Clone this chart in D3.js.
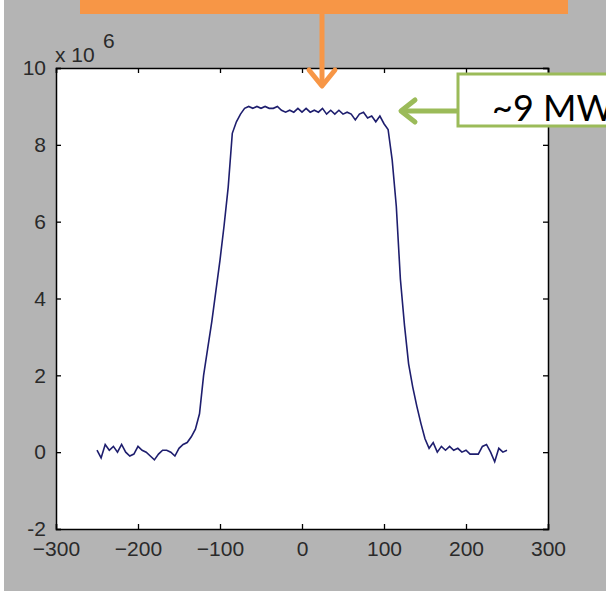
<!DOCTYPE html>
<html>
<head>
<meta charset="utf-8">
<script src="https://cdn.jsdelivr.net/npm/d3@7"></script>
<style>
  body { margin: 0; background: #fff; }
  svg { display: block; }
</style>
</head>
<body>
<svg id="chart"></svg>
<script>
var width = 606
var height = 591

// power profile, y in W
var xValues = d3.range(-250, 251, 5)
var yValues = [
    0.05, -0.15, 0.2, 0.05, 0.15, 0.0, 0.2, 0.0, -0.1, -0.05,
    0.15, 0.05, 0.0, -0.1, -0.2, -0.05, 0.05, 0.05, 0.0, -0.1,
    0.1, 0.2, 0.25, 0.4, 0.6, 1.0, 2.0, 2.7, 3.4, 4.2,
    5.0, 5.9, 6.9, 8.3, 8.6, 8.8, 8.95, 9.0, 8.95, 9.0,
    8.95, 9.0, 8.95, 8.95, 9.0, 8.9, 8.85, 8.9, 8.85, 8.95,
    8.85, 8.95, 8.85, 8.9, 8.85, 8.95, 8.8, 8.9, 8.8, 8.9,
    8.8, 8.85, 8.8, 8.65, 8.8, 8.85, 8.7, 8.75, 8.6, 8.75,
    8.55, 8.4, 7.6, 6.4, 4.5, 3.3, 2.3, 1.7, 1.2, 0.75,
    0.35, 0.1, 0.25, 0.0, 0.15, 0.05, 0.15, 0.05, 0.1, 0.0,
    0.05, -0.05, -0.05, -0.05, 0.15, 0.2, 0.0, -0.25, 0.1, 0.0,
    0.05
].map(function (v) { return v * 1e6 })

var xTicks = [-300, -200, -100, 0, 100, 200, 300]
var yTicks = [-2, 0, 2, 4, 6, 8, 10].map(function (v) { return v * 1e6 })
var calloutText = '~9 MW'

var plot = {left: 56, right: 548, top: 68, bottom: 529}

var svg = d3.select('#chart')
    .attr('width', width)
    .attr('height', height)

// slide background
svg.append('rect')
    .attr('x', 4).attr('y', 0)
    .attr('width', width - 4).attr('height', height)
    .style('fill', '#b4b4b4')

var xScale = d3.scaleLinear().domain([-300, 300]).range([plot.left, plot.right])
var yScale = d3.scaleLinear().domain([-2e6, 10e6]).range([plot.bottom, plot.top])

svg.append('rect')
    .attr('x', plot.left).attr('y', plot.top)
    .attr('width', plot.right - plot.left).attr('height', plot.bottom - plot.top)
    .style('fill', '#fff')

var line = d3.line()
    .x(function (d, i) { return xScale(xValues[i]) })
    .y(function (d) { return yScale(d) })

svg.append('path')
    .datum(yValues)
    .attr('d', line)
    .style('fill', 'none')
    .style('stroke', '#1e1e6e')
    .style('stroke-width', 1.6)

var font = '"Liberation Sans", Arial, sans-serif'
var tickLen = 5

// inward ticks on all four sides, labels left and bottom
var bottomAxis = d3.axisBottom(xScale).tickValues(xTicks).tickSize(-tickLen).tickPadding(12).tickFormat(d3.format('d'))
var topAxis = d3.axisTop(xScale).tickValues(xTicks).tickSize(-tickLen).tickFormat('')
var leftAxis = d3.axisLeft(yScale).tickValues(yTicks).tickSize(-tickLen).tickPadding(10).tickFormat(function (d) { return d / 1e6 })
var rightAxis = d3.axisRight(yScale).tickValues(yTicks).tickSize(-tickLen).tickFormat('')

function styleAxis(g) {
    g.select('.domain').style('stroke', '#000').style('stroke-width', 1.5)
    g.selectAll('.tick line').style('stroke', '#000').style('stroke-width', 1.3)
    g.selectAll('.tick text').style('font-family', font).style('font-size', '21px').style('fill', '#2a2a2a')
}

svg.append('g').attr('transform', 'translate(0,' + plot.bottom + ')').call(bottomAxis).call(styleAxis)
svg.append('g').attr('transform', 'translate(0,' + plot.top + ')').call(topAxis).call(styleAxis)
svg.append('g').attr('transform', 'translate(' + plot.left + ',0)').call(leftAxis).call(styleAxis)
svg.append('g').attr('transform', 'translate(' + plot.right + ',0)').call(rightAxis).call(styleAxis)

// exponent label
svg.append('text')
    .attr('x', 55).attr('y', 62)
    .style('font-family', font).style('font-size', '21px').style('fill', '#2a2a2a')
    .text('x 10')
svg.append('text')
    .attr('x', 103).attr('y', 48)
    .style('font-family', font).style('font-size', '21px').style('fill', '#2a2a2a')
    .text('6')

// orange annotation box (cut off at top) and arrow
var orange = '#f79646'
svg.append('rect')
    .attr('x', 80).attr('y', -10)
    .attr('width', 488).attr('height', 24)
    .style('fill', orange)
svg.append('line')
    .attr('x1', 322).attr('y1', 14).attr('x2', 322).attr('y2', 84)
    .style('stroke', orange).style('stroke-width', 5)
svg.append('path')
    .attr('d', 'M309,70 L322,86 L335,70')
    .style('fill', 'none').style('stroke', orange).style('stroke-width', 5)
    .style('stroke-linecap', 'round').style('stroke-linejoin', 'round')

// green callout
var green = '#9bbb59'
svg.append('rect')
    .attr('x', 458).attr('y', 74)
    .attr('width', 170).attr('height', 52)
    .style('fill', '#fff').style('stroke', green).style('stroke-width', 3)
svg.append('line')
    .attr('x1', 458).attr('y1', 111).attr('x2', 402).attr('y2', 111)
    .style('stroke', green).style('stroke-width', 5)
svg.append('path')
    .attr('d', 'M415,100 L401,111 L415,122')
    .style('fill', 'none').style('stroke', green).style('stroke-width', 5)
    .style('stroke-linecap', 'round').style('stroke-linejoin', 'round')
svg.append('text')
    .attr('x', 492).attr('y', 121)
    .style('font-family', 'Lato, Carlito, Calibri, sans-serif').style('font-size', '36px').style('fill', '#000')
    .text(calloutText)
</script>
</body>
</html>
